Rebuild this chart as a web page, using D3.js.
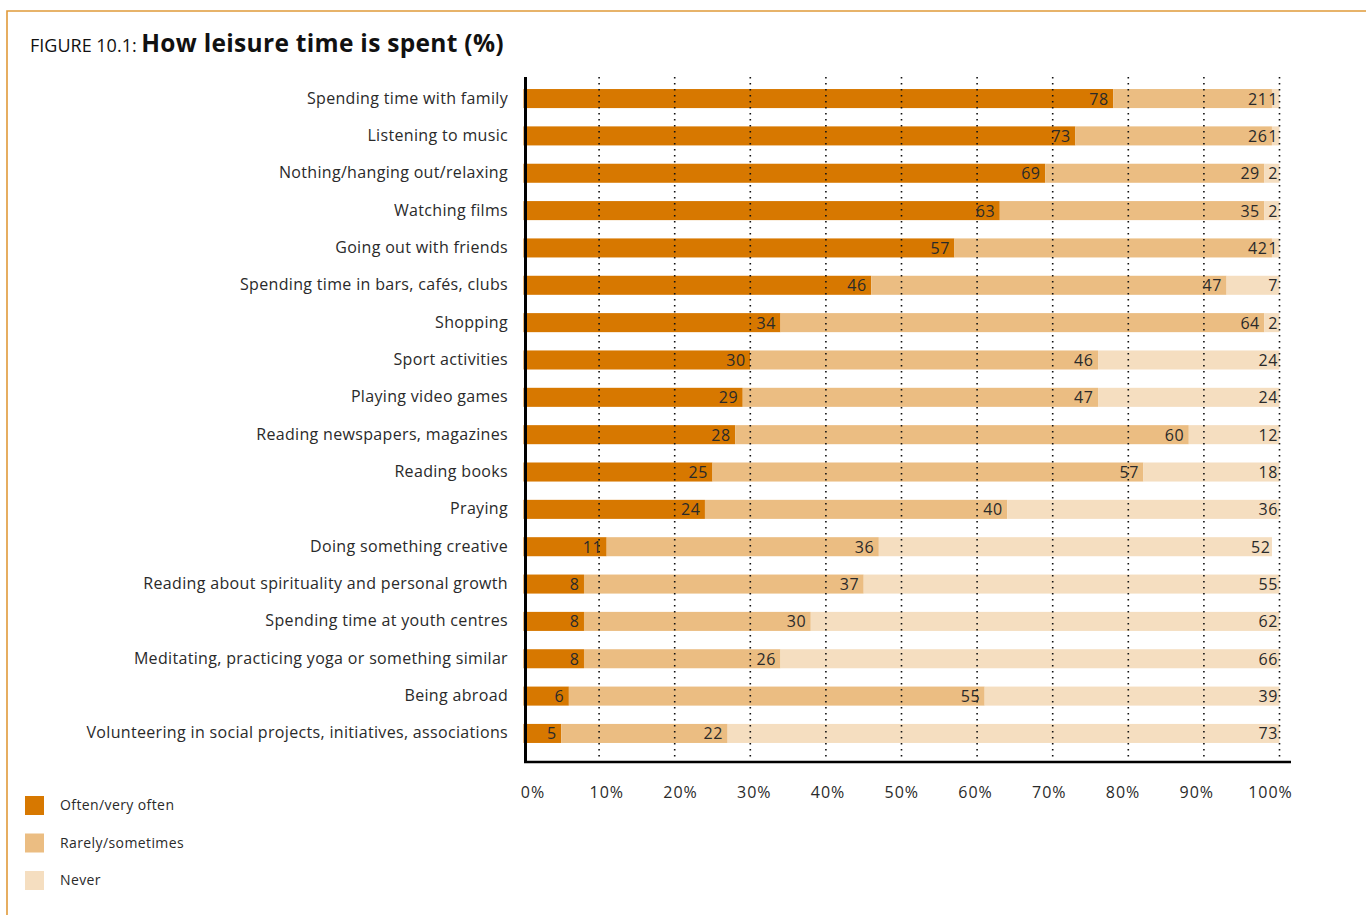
<!DOCTYPE html>
<html>
<head>
<meta charset="utf-8">
<script src="https://cdn.jsdelivr.net/npm/d3@7"></script>
<style>
  html, body { margin: 0; padding: 0; background: #fff; }
  svg { display: block; font-family: "Open Sans", "Noto Sans", sans-serif; }
</style>
</head>
<body>
<svg id="chart" width="1366" height="915"></svg>
<script>
const categories = [
  "Spending time with family",
  "Listening to music",
  "Nothing/hanging out/relaxing",
  "Watching films",
  "Going out with friends",
  "Spending time in bars, cafés, clubs",
  "Shopping",
  "Sport activities",
  "Playing video games",
  "Reading newspapers, magazines",
  "Reading books",
  "Praying",
  "Doing something creative",
  "Reading about spirituality and personal growth",
  "Spending time at youth centres",
  "Meditating, practicing yoga or something similar",
  "Being abroad",
  "Volunteering in social projects, initiatives, associations"
];
const often     = [78, 73, 69, 63, 57, 46, 34, 30, 29, 28, 25, 24, 11, 8, 8, 8, 6, 5];
const sometimes = [21, 26, 29, 35, 42, 47, 64, 46, 47, 60, 57, 40, 36, 37, 30, 26, 55, 22];
const never     = [1, 1, 2, 2, 1, 7, 2, 24, 24, 12, 18, 36, 52, 55, 62, 66, 39, 73];
const seriesNames = ["Often/very often", "Rarely/sometimes", "Never"];
const seriesColors = ["#D77800", "#EBBD82", "#F5DEC0"];
const xTicks = [0, 10, 20, 30, 40, 50, 60, 70, 80, 90, 100];

const svg = d3.select("#chart");
const textColor = "#2a2a2a";

// frame
svg.append("path")
  .attr("d", "M7,915 L7,11 L1366,11")
  .attr("fill", "none").attr("stroke", "#E09A3A").attr("stroke-width", 1.6);

// title
const title = svg.append("text").attr("x", 30).attr("y", 52).attr("fill", "#111");
title.append("tspan").attr("font-size", 18).text("FIGURE 10.1: ");
title.append("tspan").attr("font-size", 24.5).attr("font-weight", "bold")
  .attr("letter-spacing", 0.3).text("How leisure time is spent (%)");

const x = d3.scaleLinear().domain([0, 100]).range([523.5, 1279.5]);
const xLabel = d3.scaleLinear().domain([0, 100]).range([533, 1270.5]);
const y = d3.scaleBand().domain(categories).range([79.7, 752.3]).paddingInner(0.49).paddingOuter(0.25);

// stacked data
const stackData = categories.map((c, i) => ({cat: c, s0: often[i], s1: sometimes[i], s2: never[i]}));
const stack = d3.stack().keys(["s0", "s1", "s2"])(stackData);

const groups = svg.append("g").selectAll("g").data(stack).join("g")
  .attr("fill", (d, i) => seriesColors[i]);
groups.selectAll("rect").data(d => d).join("rect")
  .attr("x", d => x(d[0]))
  .attr("width", d => x(d[1]) - x(d[0]))
  .attr("y", d => y(d.data.cat))
  .attr("height", y.bandwidth());

// dotted gridlines
svg.append("g").selectAll("line").data(xTicks.slice(1)).join("line")
  .attr("x1", d => x(d)).attr("x2", d => x(d))
  .attr("y1", 77).attr("y2", 762)
  .attr("stroke", "#111").attr("stroke-width", 1.6)
  .attr("stroke-dasharray", "1.6,4.4");

// value labels
const labelOffsets = [4.5, 4.5, 1.5];
const labels = svg.append("g").attr("font-size", 16).attr("fill", textColor)
  .attr("text-anchor", "end").attr("letter-spacing", 0.6);
stack.forEach((layer, li) => {
  labels.selectAll(null).data(layer).join("text")
    .attr("x", d => x(d[1]) - labelOffsets[li])
    .attr("y", d => y(d.data.cat) + y.bandwidth() / 2 + 6)
    .text(d => d[1] - d[0]);
});

// category labels
svg.append("g").attr("font-size", 16).attr("fill", textColor).attr("text-anchor", "end")
  .attr("letter-spacing", 0.33)
  .selectAll("text").data(categories).join("text")
  .attr("x", 508)
  .attr("y", d => y(d) + y.bandwidth() / 2 + 5)
  .text(d => d);

// axes lines
svg.append("line").attr("x1", 525.5).attr("x2", 525.5).attr("y1", 77).attr("y2", 763)
  .attr("stroke", "#000").attr("stroke-width", 3);
svg.append("line").attr("x1", 524).attr("x2", 1291).attr("y1", 762).attr("y2", 762)
  .attr("stroke", "#000").attr("stroke-width", 2.5);

// tick labels
svg.append("g").attr("font-size", 16).attr("fill", textColor).attr("text-anchor", "middle")
  .selectAll("text").data(xTicks).join("text")
  .attr("x", d => xLabel(d))
  .attr("y", 798)
  .attr("letter-spacing", 1)
  .text(d => d + "%");

// legend
const lg = svg.append("g");
seriesNames.forEach((n, i) => {
  const yy = 796 + i * 37.5;
  lg.append("rect").attr("x", 25).attr("y", yy).attr("width", 19).attr("height", 19).attr("fill", seriesColors[i]);
  lg.append("text").attr("x", 60).attr("y", yy + 14).attr("font-size", 14)
    .attr("letter-spacing", 0.4).attr("fill", textColor).text(n);
});
</script>
</body>
</html>
